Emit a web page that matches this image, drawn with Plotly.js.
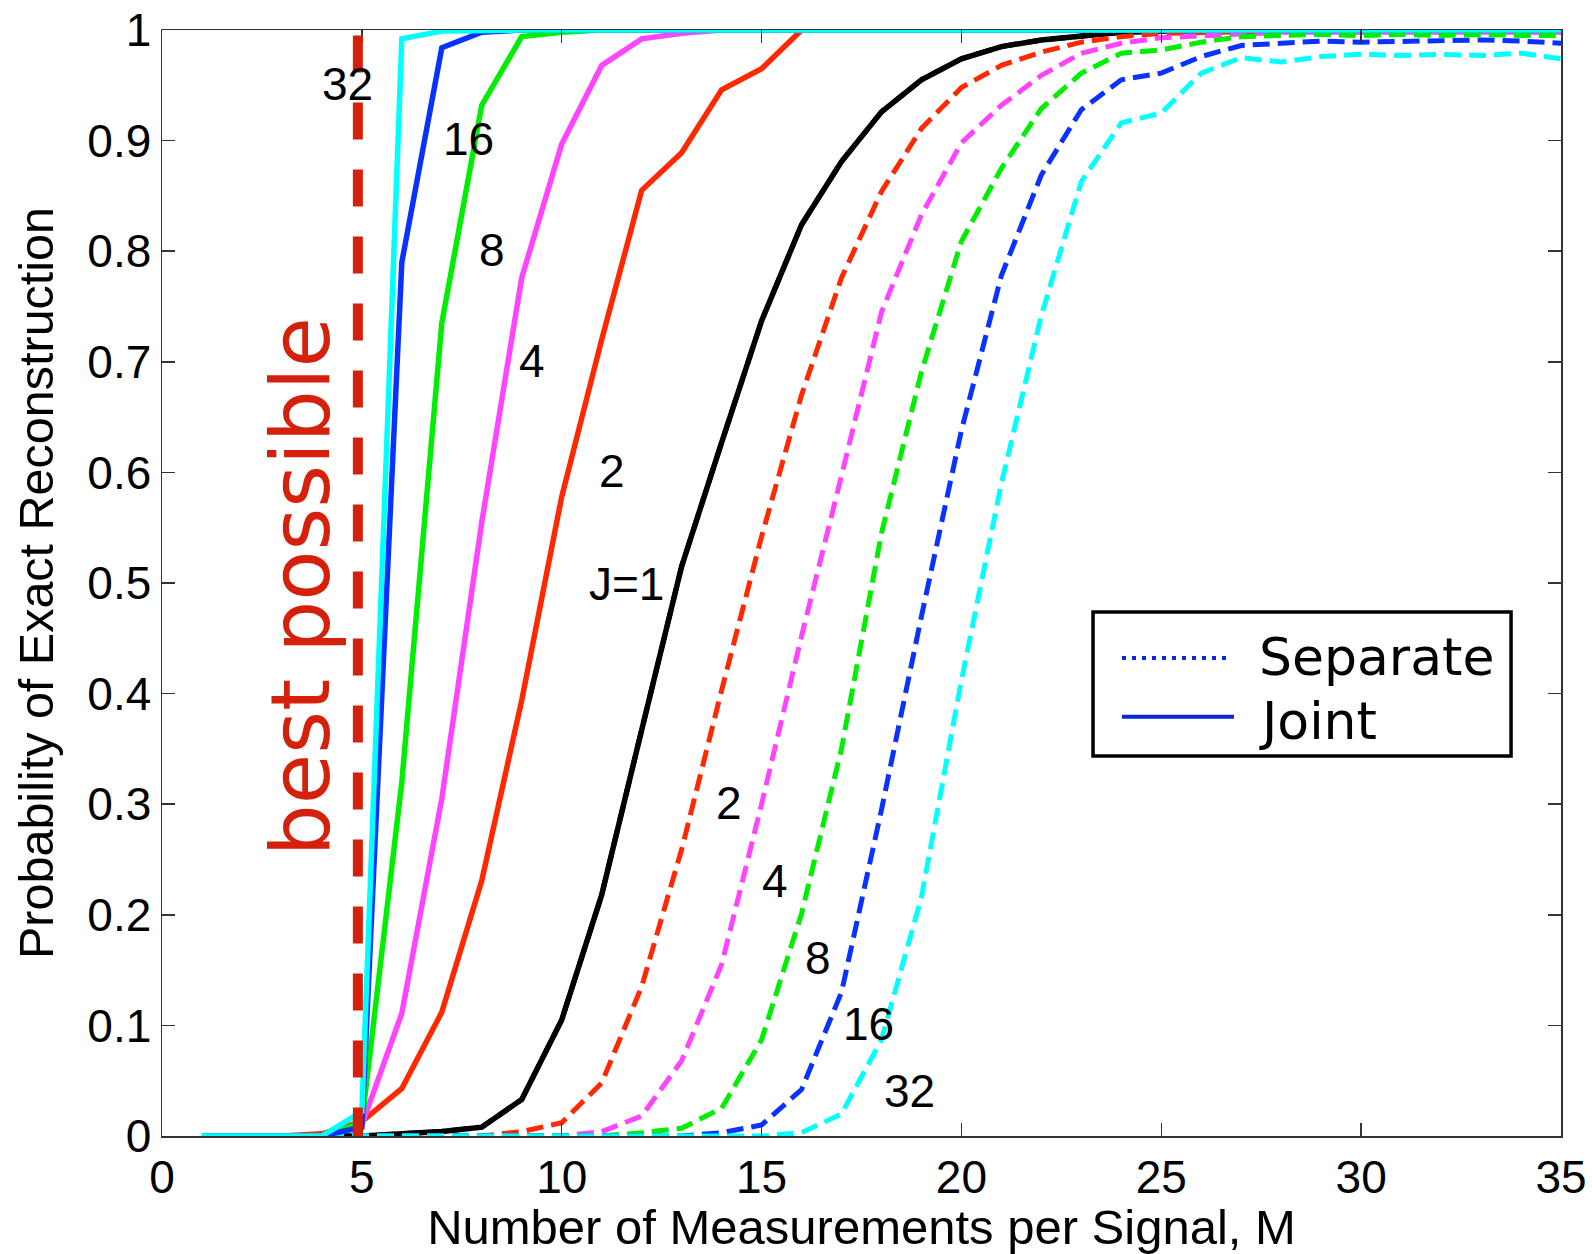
<!DOCTYPE html>
<html>
<head>
<meta charset="utf-8">
<script src="https://cdn.plot.ly/plotly-3.0.1.min.js"></script>
<style>html,body{margin:0;padding:0;background:#fff;}#chart{width:1592px;height:1254px;}</style>
</head>
<body>
<div id="chart"></div>
<script>
// Number of measurements per signal
const M = [1,2,3,4,5,6,7,8,9,10,11,12,13,14,15,16,17,18,19,20,21,22,23,24,25,26,27,28,29,30,31,32,33,34,35];

// Joint reconstruction probability, by number of signals J
const joint_J1  = [0,0,0,0,0,0.002,0.004,0.008,0.033,0.105,0.218,0.367,0.515,0.627,0.737,0.824,0.881,0.926,0.955,0.974,0.985,0.991,0.995,0.998,0.999,1,1,1,1,1,1,1,1,1,1];
const joint_J2  = [0,0,0,0.002,0.013,0.043,0.112,0.231,0.394,0.578,0.72,0.855,0.889,0.946,0.965,1,1,1,1,1,1,1,1,1,1,1,1,1,1,1,1,1,1,1,1];
const joint_J4  = [0,0,0,0,0.01,0.111,0.305,0.555,0.776,0.897,0.968,0.992,0.997,1,1,1,1,1,1,1,1,1,1,1,1,1,1,1,1,1,1,1,1,1,1];
const joint_J8  = [0,0,0,0,0.012,0.32,0.735,0.932,0.994,0.998,1,1,1,1,1,1,1,1,1,1,1,1,1,1,1,1,1,1,1,1,1,1,1,1,1];
const joint_J16 = [0,0,0,0,0.008,0.79,0.984,0.998,1,1,1,1,1,1,1,1,1,1,1,1,1,1,1,1,1,1,1,1,1,1,1,1,1,1,1];
const joint_J32 = [0,0,0,0,0.022,0.992,0.999,1,1,1,1,1,1,1,1,1,1,1,1,1,1,1,1,1,1,1,1,1,1,1,1,1,1,1,1];

// Separate reconstruction probability, by number of signals J
const sep_J1  = [0,0,0,0,0,0.002,0.004,0.008,0.033,0.105,0.218,0.367,0.515,0.627,0.737,0.824,0.881,0.926,0.955,0.974,0.985,0.991,0.995,0.998,0.999,1,1,1,1,1,1,1,1,1,1];
const sep_J2  = [0,0,0,0,0,0,0,0,0.004,0.012,0.048,0.135,0.259,0.403,0.542,0.67,0.776,0.854,0.911,0.948,0.968,0.98,0.989,0.994,0.997,0.998,0.999,0.999,0.999,0.999,0.999,0.999,0.999,0.999,0.999];
const sep_J4  = [0,0,0,0,0,0,0,0,0,0,0.004,0.018,0.068,0.155,0.3,0.452,0.597,0.745,0.833,0.898,0.932,0.959,0.979,0.988,0.993,0.995,0.997,0.998,0.998,0.998,0.998,0.998,0.998,0.998,0.998];
const sep_J8  = [0,0,0,0,0,0,0,0,0,0,0,0.003,0.007,0.025,0.087,0.201,0.35,0.545,0.691,0.809,0.875,0.929,0.961,0.979,0.982,0.989,0.994,0.995,0.996,0.995,0.996,0.995,0.996,0.995,0.995];
const sep_J16 = [0,0,0,0,0,0,0,0,0,0,0,0,0,0.003,0.01,0.042,0.13,0.295,0.47,0.638,0.778,0.869,0.928,0.955,0.961,0.976,0.986,0.988,0.99,0.989,0.99,0.99,0.991,0.99,0.988];
const sep_J32 = [0,0,0,0,0,0,0,0,0,0,0,0,0,0,0,0.003,0.02,0.087,0.216,0.412,0.59,0.742,0.863,0.916,0.925,0.961,0.975,0.971,0.976,0.978,0.977,0.978,0.977,0.979,0.974];

const J_LABELS = ['J=1','2','4','8','16','32'];
const COLORS = ['#000000','#ff2800','#ff44ff','#00ee00','#0a32ff','#00ffff'];

// Curve label positions (M, probability)
const jointLabelM = [11.62, 11.27, 9.26, 8.26, 7.67, 4.63];
const jointLabelP = [0.499, 0.601, 0.701, 0.801, 0.901, 0.951];
const sepLabelText = ['2','4','8','16','32'];
const sepLabelM = [14.18, 15.33, 16.42, 17.67, 18.7];
const sepLabelP = [0.3015, 0.231, 0.161, 0.101, 0.041];

const jointData = [joint_J1, joint_J2, joint_J4, joint_J8, joint_J16, joint_J32];
const sepData = [sep_J1, sep_J2, sep_J4, sep_J8, sep_J16, sep_J32];

const BEST_M = 4.9;

function sepTrace(i){
  return {x:M, y:sepData[i], mode:'lines', type:'scatter', showlegend:false, hoverinfo:'skip',
    line:{color:COLORS[i], width:5, dash:'17px,8px'}};
}
function jointTrace(i){
  return {x:M, y:jointData[i], mode:'lines', type:'scatter', showlegend:false, hoverinfo:'skip',
    line:{color:COLORS[i], width:5.5}};
}
const traces = [sepTrace(0), jointTrace(0)];
for (let i=1;i<6;i++) traces.push(sepTrace(i));
for (let i=1;i<6;i++) traces.push(jointTrace(i));

const labelFont = {family:'Liberation Sans, Arial, sans-serif', size:46, color:'#000'};
const annotations = [];
for (let i=0;i<6;i++) annotations.push({x:jointLabelM[i], y:jointLabelP[i], xref:'x', yref:'y', text:J_LABELS[i], showarrow:false, font:labelFont, xanchor:'center', yanchor:'middle'});
for (let i=0;i<5;i++) annotations.push({x:sepLabelM[i], y:sepLabelP[i], xref:'x', yref:'y', text:sepLabelText[i], showarrow:false, font:labelFont, xanchor:'center', yanchor:'middle'});
annotations.push({x:3.45, y:0.497, xref:'x', yref:'y', text:'best possible', textangle:-90, showarrow:false,
  font:{family:'DejaVu Sans', size:82, color:'#d5210b'}, xanchor:'center', yanchor:'middle'});

// legend (drawn manually to match the original long sample lines)
const legFont = {family:'DejaVu Sans', size:52, color:'#000'};
annotations.push({x:0.7827, y:0.4334, xref:'paper', yref:'paper', text:'Separate', showarrow:false, font:legFont, xanchor:'left', yanchor:'middle'});
annotations.push({x:0.7827, y:0.3752, xref:'paper', yref:'paper', text:'Joint', showarrow:false, font:legFont, xanchor:'left', yanchor:'middle'});

const shapes = [
  {type:'line', xref:'x', yref:'y', x0:BEST_M, x1:BEST_M, y0:0.995, y1:-0.004, line:{color:'#d5210b', width:10, dash:'37px,30px'}},
  {type:'rect', xref:'paper', yref:'paper', x0:0.6655, x1:0.9643, y0:0.3436, y1:0.4738, line:{color:'#000', width:3.5}, fillcolor:'#fff', layer:'above'},
  {type:'line', xref:'paper', yref:'paper', x0:0.6862, x1:0.7634, y0:0.4322, y1:0.4322, line:{color:'#0a28d8', width:4, dash:'4px,6px'}, layer:'above'},
  {type:'line', xref:'paper', yref:'paper', x0:0.6862, x1:0.7663, y0:0.3791, y1:0.3791, line:{color:'#0a28d8', width:4}, layer:'above'}
];

const tickFont = {family:'Liberation Sans, Arial, sans-serif', size:46, color:'#000'};
const layout = {
  width:1592, height:1254,
  margin:{l:162, r:31, t:30, b:118, pad:0},
  paper_bgcolor:'#fff', plot_bgcolor:'#fff',
  showlegend:false,
  xaxis:{range:[0,35], tickvals:[0,5,10,15,20,25,30,35], ticks:'inside', ticklen:13, tickwidth:1.5, tickcolor:'#333',
    showline:true, linecolor:'#333', linewidth:1.5, mirror:'ticks', showgrid:false, zeroline:false,
    tickfont:tickFont, automargin:false,
    title:{text:'Number of Measurements per Signal, M', font:{family:'Liberation Sans, Arial, sans-serif', size:49, color:'#000'}, standoff:6}},
  yaxis:{range:[0,1], dtick:0.1, tick0:0, ticks:'inside', ticklen:13, tickwidth:1.5, tickcolor:'#333',
    showline:true, linecolor:'#333', linewidth:1.5, mirror:'ticks', showgrid:false, zeroline:false,
    tickfont:tickFont, automargin:false,
    title:{text:'Probability of Exact Reconstruction', font:{family:'Liberation Sans, Arial, sans-serif', size:48.5, color:'#000'}, standoff:18}},
  annotations:annotations,
  shapes:shapes
};
Plotly.newPlot('chart', traces, layout, {displayModeBar:false, staticPlot:true});
</script>
</body>
</html>
